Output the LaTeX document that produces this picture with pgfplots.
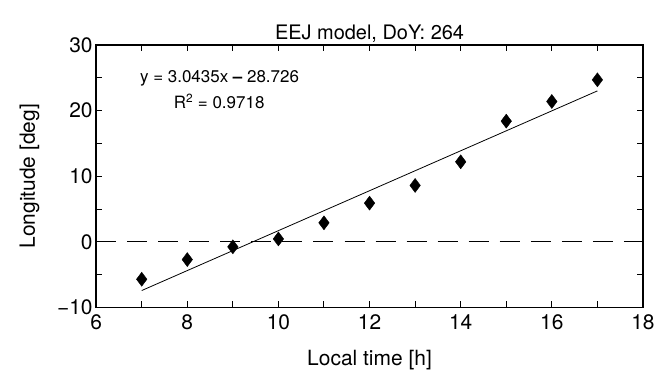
\documentclass[border=0pt]{standalone}
\usepackage{fontspec}
\setmainfont{TeX Gyre Heros}
\usepackage{pgfplots}
\pgfplotsset{compat=1.18}
\usetikzlibrary{calc}
\begin{document}
\begin{tikzpicture}
\begin{axis}[name=ax, scale only axis, width=546bp, height=262bp,
 xmin=6, xmax=18, ymin=-10, ymax=30,
 xtick={6,8,...,18}, ytick={-10,0,...,30}, yticklabels={−10,0,10,20,30},
 minor x tick num=1, minor y tick num=1,
 tick align=inside, major tick length=6bp, minor tick length=6bp,
 tick style={line width=1bp, black},
 axis line style={line width=1.3bp},
 /pgf/number format/assume math mode=true,
 ticklabel style={font=\fontsize{21}{24}\selectfont},
 xticklabel style={yshift=-4bp},
 label style={font=\fontsize{21}{24}\selectfont},
 xlabel style={yshift=-13bp},
 ylabel style={at={(axis description cs:-0.122,0.5)}, anchor=center},
 title style={font=\fontsize{20}{24}\selectfont, yshift=-7bp},
 title={EEJ model, DoY: 264},
 xlabel={Local time [h]}, ylabel={Longitude [deg]},
 clip=false,
]
\addplot[black, dash pattern=on 20bp off 11bp, line width=0.8bp] coordinates {(6,0) (18,0)};
\addplot[black, line width=0.8bp] coordinates {(7,-7.4215) (17,23.0135)};
\addplot[black, only marks, mark=diamond*, mark size=7bp] coordinates {
(7,-5.7) (8,-2.7) (9,-0.76) (10,0.45) (11,2.9) (12,5.9) (13,8.6) (14,12.2) (15,18.4) (16,21.4) (17,24.7)};
\node[anchor=west, font=\fontsize{17}{20}\selectfont, inner sep=0] at (axis cs:6.96,25) {y = 3.0435x \textbf{–} 28.726};
\node[font=\fontsize{17}{20}\selectfont, inner sep=0] at (axis cs:8.70,21.45) {R\textsuperscript{2} = 0.9718};
\end{axis}
\path[use as bounding box] ($(ax.south west)+(-96bp,-63bp)$) rectangle ($(ax.north east)+(27bp,45bp)$);
\end{tikzpicture}
\end{document}
